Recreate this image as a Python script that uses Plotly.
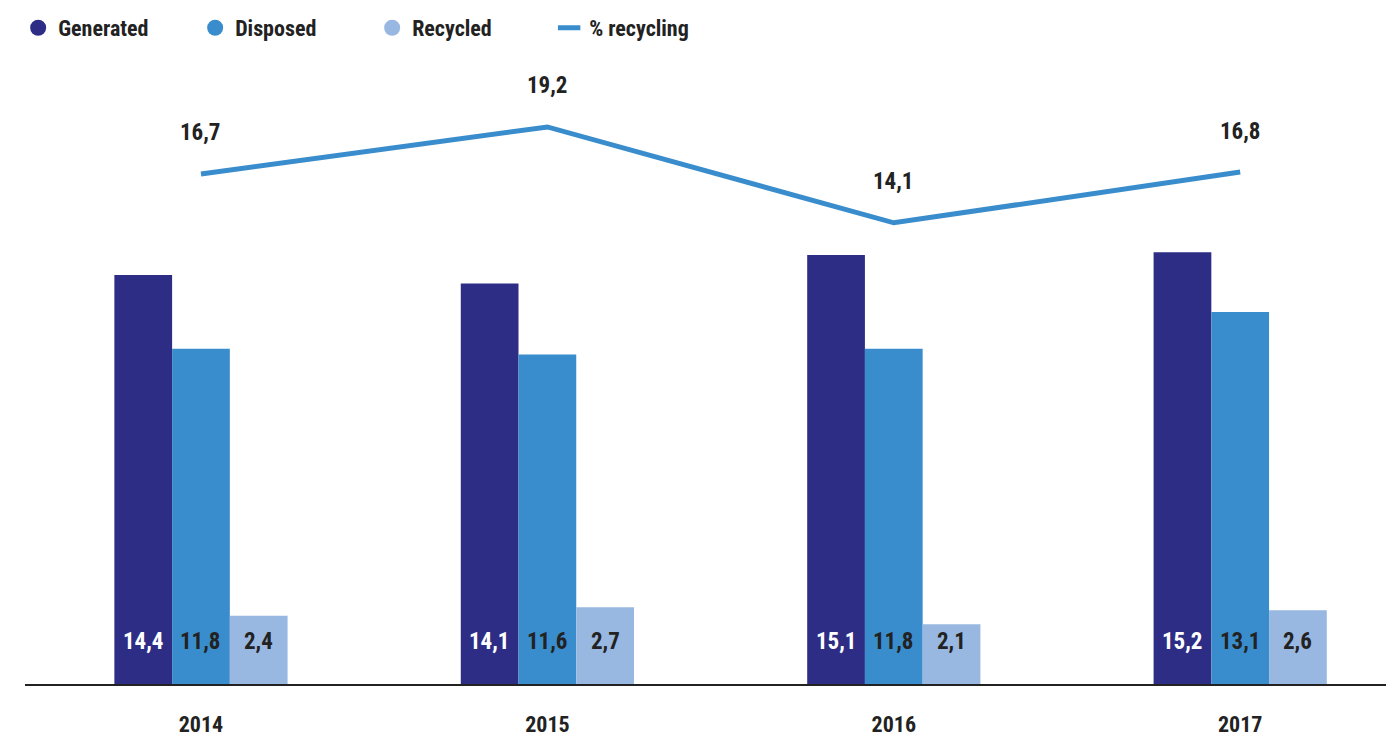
import plotly.graph_objects as go

years = ["2014", "2015", "2016", "2017"]
generated = [14.4, 14.1, 15.1, 15.2]
disposed = [11.8, 11.6, 11.8, 13.1]
recycled = [2.4, 2.7, 2.1, 2.6]
pct_recycling = [16.7, 19.2, 14.1, 16.8]

C_GEN = "#2e2d86"
C_DIS = "#3a8dcc"
C_REC = "#98b8e1"
C_LINE = "#3a8dcc"
TXT = "#222222"
FONT = "Roboto Condensed, Open Sans Condensed, sans-serif"

fig = go.Figure()

series = [("Generated", generated, C_GEN, "white"),
          ("Disposed", disposed, C_DIS, TXT),
          ("Recycled", recycled, C_REC, TXT)]

for i, (name, vals, col, tcol) in enumerate(series):
    fig.add_trace(go.Bar(x=years, y=vals, name=name, marker_color=col,
                         marker_line_width=0, showlegend=False,
                         legendgroup=name, offsetgroup=str(i)))
    # legend proxy with circle marker
    fig.add_trace(go.Scatter(x=[None], y=[None], mode="markers", name=name,
                             legendgroup=name,
                             marker=dict(symbol="circle", size=20, color=col)))

fig.add_trace(go.Scatter(x=years, y=pct_recycling, mode="lines", yaxis="y2",
                         line=dict(color=C_LINE, width=5), showlegend=False,
                         legendgroup="pct", name="% recycling"))
fig.add_trace(go.Scatter(x=[None], y=[None], mode="markers", name="% recycling",
                         legendgroup="pct",
                         marker=dict(symbol="line-ew", size=18,
                                     line=dict(color=C_LINE, width=5))))

annotations = []
bar_w = 1.0 / 3 * 0.5
for i, (name, vals, col, tcol) in enumerate(series):
    for j, v in enumerate(vals):
        annotations.append(dict(
            x=j + (i - 1) * bar_w, y=0, xref="x", yref="y",
            text=f"{v:.1f}".replace(".", ","), showarrow=False,
            yshift=43, font=dict(family=FONT, size=23, weight="bold", color=tcol),
            xanchor="center", yanchor="middle"))
for j, v in enumerate(pct_recycling):
    annotations.append(dict(
        x=j, y=v, xref="x", yref="y2",
        text=f"{v:.1f}".replace(".", ","), showarrow=False,
        yshift=41, font=dict(family=FONT, size=23, weight="bold", color=TXT),
        xanchor="center", yanchor="middle"))

fig.update_layout(
    width=1386, height=728,
    margin=dict(l=17, r=0, t=52, b=52, autoexpand=False),
    paper_bgcolor="white", plot_bgcolor="white",
    barmode="group", bargap=0.5, bargroupgap=0,
    font=dict(family=FONT, size=22, color=TXT, weight="bold"),
    annotations=annotations,
    legend=dict(orientation="h", xref="paper", yref="paper",
                x=-0.005, y=1.085, xanchor="left", yanchor="top",
                entrywidth=132, entrywidthmode="pixels",
                font=dict(family=FONT, size=22, weight="bold", color=TXT),
                itemclick=False, itemdoubleclick=False),
    xaxis=dict(type="category", range=[-0.508, 3.444], showgrid=False,
               showline=True, linecolor="#222222", linewidth=2, automargin=False,
               ticks="", tickfont=dict(family=FONT, size=22, weight="bold", color=TXT),
               ticklabelstandoff=20, zeroline=False, fixedrange=True),
    yaxis=dict(range=[0, 21.97], visible=False, showgrid=False, automargin=False,
               zeroline=False, fixedrange=True),
    yaxis2=dict(range=[-10.43, 22.76], overlaying="y", visible=False, automargin=False,
                showgrid=False, zeroline=False, fixedrange=True),
)

fig.write_html("out.html", config={"displayModeBar": False})
